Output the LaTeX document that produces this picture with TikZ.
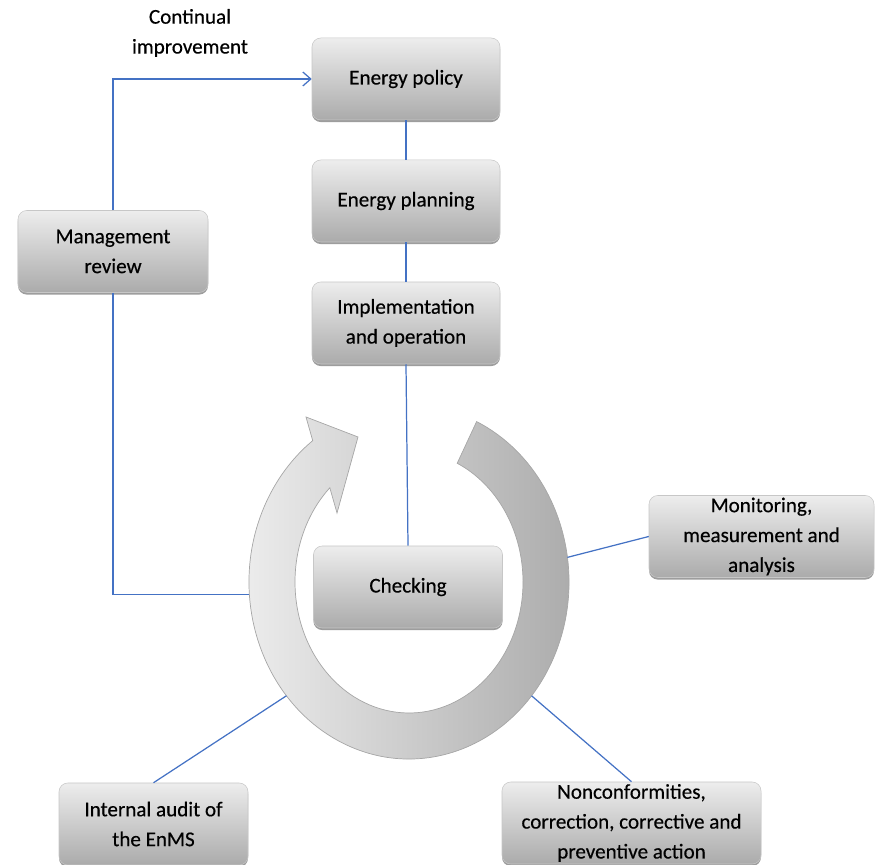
\documentclass[tikz,border=0pt]{standalone}
\usepackage{fontspec}
\setmainfont{Carlito}[FakeBold=0.4]
\usepackage{xcolor}
\usepackage{tikz}
\usetikzlibrary{shadows}
\usetikzlibrary{arrows.meta}
\definecolor{linkblue}{RGB}{68,114,196}
\tikzset{>={Straight Barb[length=1.6mm,width=2.8mm]}}

\begin{document}
\begin{tikzpicture}[font=\fontsize{12}{17}\selectfont]
\tikzset{stagebox/.style={rectangle, rounded corners=5pt, top color=black!7, bottom color=black!33, draw=black!22, line width=0.3pt, minimum width=3.76cm, minimum height=1.64cm, inner xsep=2pt, inner ysep=0pt, align=center, drop shadow={shadow xshift=0pt, shadow yshift=-1.2pt, opacity=0.55, fill=black!70}}}
\tikzset{link/.style={draw=linkblue, line width=0.7pt}}
    \useasboundingbox (0,0) rectangle (17.5,17.3);

    \coordinate (ringC) at (8.18,5.66);
    \coordinate (ringW) at ([shift={(184:3.2 and 3.54)}]ringC);
    \coordinate (ringE) at ([shift={(8:3.2 and 3.54)}]ringC);
    \coordinate (ringSW) at ([shift={(220:3.2 and 3.54)}]ringC);
    \coordinate (ringSE) at ([shift={(-40:3.2 and 3.54)}]ringC);

    % circular arrow
    \shade[left color=black!6, right color=black!34, draw=black!35, line width=0.4pt]
        ([shift={(65:3.2 and 3.54)}]ringC) arc[start angle=65, end angle=-233, x radius=3.2, y radius=3.54]
        -- (6.12,8.96) -- (7.16,8.56) -- (6.74,7.04)
        -- ([shift={(134:2.28 and 2.62)}]ringC) arc[start angle=-226, end angle=65, x radius=2.28, y radius=2.62] -- cycle;

    \node[stagebox] (policy) at (8.12,15.72) {Energy policy};
    \node[stagebox] (planning) at (8.12,13.28) {Energy planning};
    \node[stagebox] (impl) at (8.12,10.84) {Implementation\\and operation};
    \node[stagebox, minimum width=3.8cm] (review) at (2.26,12.27) {Management\\review};
    \node[stagebox, minimum width=3.78cm] (check) at (8.16,5.56) {Checking};
    \node[stagebox, minimum width=4.5cm] (monitor) at (15.23,6.57) {Monitoring,\\measurement and\\analysis};
    \node[stagebox, minimum width=3.78cm] (audit) at (3.07,0.82) {Internal audit of\\the EnMS};
    \node[stagebox, minimum width=5.18cm] (noncon) at (12.63,0.84) {Nonconformities,\\correction, corrective and\\preventive action};
    \node[align=center] (contlabel) at (3.8,16.64) {Continual\\improvement};
% % % % % % % % % % % % % % % % % % %
    \draw[link] (policy) -- (planning);
    \draw[link] (planning) -- (impl);
    \draw[link] (impl.south) -- (check.north);
    \draw[link, ->] (review.north) |- (policy.west);
    \draw[link] (review.south) |- (ringW);
    \draw[link] (ringE) -- (monitor.west);
    \draw[link] (ringSW) -- (audit.north);
    \draw[link] (ringSE) -- (noncon.north);
\end{tikzpicture}
\end{document}
